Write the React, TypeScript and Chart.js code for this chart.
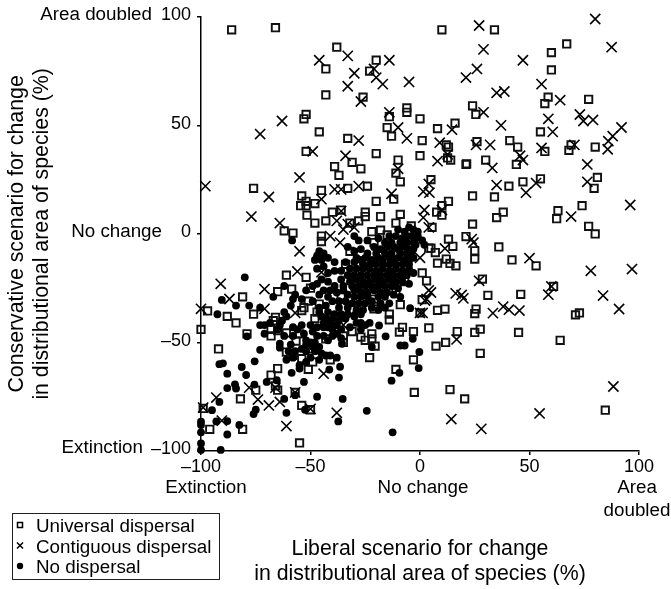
import React, { useEffect, useRef } from "react";
import { Chart, registerables } from "chart.js";

Chart.register(...registerables);

type P = [number, number];

const universalDispersal: P[] = [
  [-86,94],[-66,95],[-38,86],[-43,76],[-20,80],[-23,75],[-43,64],[-26,63],[-52,55],[-53,53],[-46,47],[-14,54],[-15,49],[-13,45],[-6,58],[-6,56],[0,53],[1,43],[0,36],[-33,44],[-52,38],[-20,37],[-39,31],[-31,33],[-27,30],[-37,27],[-10,34],[-11,28],[-9,24],[-76,21],[-33,21],[-24,22],[-45,20],[-54,17.5],[-52,15],[-54.5,13],[-52,13],[-48,14],[-20,15],[-12,16],[5,25],[-40,10],[-36,11],[-25,10],[-25,8],[-51.6,8.6],[-48,5],[-43,6],[-28,6],[-18,8],[-9,9],[-11,5],[-4,3.7],[-62,1.4],[-58,0.4],[-45,-1],[-22,1],[-18,1.7],[-15,-0.5],[-32,5],
  [10,94],[34,94],[67,87.5],[60,83.5],[60,75.5],[77,62],[58.5,63],[57,60],[24,59],[25.5,55],[16,51],[8,48.5],[55,47],[41,43],[44.6,40],[26,42.5],[13,40],[12,41],[12.6,35],[14,34],[21,32],[21.3,32.3],[30,34],[44,32],[69,41],[68,38.5],[57,38],[80,40],[47,24],[55,25.4],[81,26],[79.5,21],[40.6,22],[24,17.5],[34,17],[13,15],[10,13],[7.6,10],[10,8.6],[38,10],[35,7.5],[63,10.7],[62.4,7],[74,13],[24,4.5],[77,3.5],[80,0],[5.5,3],
  [-45,-3.5],[-32,-8],[-34,-14],[-61,-19],[-52,-20],[-65,-26.6],[-58.6,-25.4],[-81,-29],[-97,-35.5],[-88,-38],[-84,-41],[-76,-37],[-66,-38.4],[-67,-40],[-79,-46],[-100,-44],[-68,-44],[-68,-47],[-65,-44.5],[-61,-45.6],[-55,-46],[-56.6,-49.4],[-53,-34],[-54,-35.3],[-51,-31],[-46,-32.3],[-47,-36],[-48,-39],[-36,-29],[-50,-25],[-92,-53],[-61,-54.4],[-58,-56],[-54,-57.5],[-49,-59],[-51,-62.4],[-51,-53],[-65,-62],[-68,-65],[-66,-70],[-65,-72],[-75,-72],[-82,-76],[-57,-73],[-54,-79],[-50,-81],[-99,-80.4],[-96,-90],[-81,-90],[-55,-96.3],[-41,-58],[-23,-57],[-11,-62.4],[-3,-58],[-2.6,-73],[-9,-32.6],[-14,-37],[-14,-39.6],[-8,-43],[-9.4,-45.2],[-3,-45],[0,-36.4],[1,-30.3],[-31,-45],[-27,-47.5],[-25,-49],[-22,-46],[-22,-48.3],[-20.5,-51.7],[-35,-47],[-35,-50],[-43,-48.3],[-21,-30],[-21,-34.5],[-11,-27],[-7,-22],[1,-18],[3,-21.6],[4,-6.6],[-21,-4],[4,-43.3],
  [13,-2.4],[21,-1.2],[15,-5.7],[36,-6],[5,-6.6],[7,-8.6],[25,-7.8],[25,-11.6],[12,-11.6],[13.7,-13.6],[16.4,-14.7],[8,-13.5],[42,-12],[53,-14.7],[28.5,-20.8],[31,-28.3],[46,-27.8],[61,-24.2],[8,-35.2],[11.4,-34.6],[25.6,-34.6],[25,-36.7],[72.8,-36.4],[71,-37.3],[17,-45],[27.5,-43.9],[25,-45.4],[45,-45.4],[64,-49],[11.7,-50],[7.3,-51.7],[27.5,-55],[13.7,-71.7],[20.4,-76],[84.6,-81.2],
];

const contiguousDispersal: P[] = [
  [-98,22],[-73,46],[-63,52],[-46,80],[-33,82],[-30,74],[-14,80],[-21,76],[-20,72],[-17,69],[-5,70],[-33,68],[-27,61],[-14,56],[-10,49],[-6,44],[-28,43],[-49,38],[-34,36],[-55,26],[-10,30],[-69,17],[-77,8],[-64,5],[-39,20.5],[-36,20.5],[-28,22],[-45,16],[-13,18.5],[1.5,19.5],[4,23],[-36,10.5],[2,11],[1.5,7.5],[-38,6],[-33,4.5],[-35,2],[-30,3],[-41,-1],[4,3],
  [80,99],[27,96],[87.5,86],[29,85],[47,80],[26,76],[21,72],[55.5,69],[35,65],[38.5,65.6],[64,61.6],[29,56],[73,55],[74.6,52],[79,52.5],[58.6,53],[37,50],[14.6,48],[60.6,47],[92,49],[88,45],[86,42.7],[85.7,39],[9,42],[25.6,41],[32,41],[55.5,39.6],[70.5,41],[45.7,36],[47,34],[8,33.5],[12.6,36.6],[33,30.4],[76.4,32],[76.4,24],[35,22.5],[53,23.4],[48.4,19],[4.3,19],[96,13.3],[69,8],[10,11],
  [-91,-23],[-71,-25.4],[-87,-30],[-100,-34.5],[-71,-34.5],[-57,-36.4],[-55,-8],[-56,-17.3],[-45,-17.7],[0,-11],[4,-26],[3,-30],[0,-36.4],[-35,-42],[-44,-64.4],[-78,-70.8],[-66,-70.8],[-74,-76.3],[-93,-75.4],[-69,-79],[-64,-77.4],[-99,-80],[-50,-80.6],[-38,-82.4],[-90.5,-86],[-61,-88.5],[-57,-73],[-36.5,-4],[-29,-34.5],
  [23.6,-2.4],[24.4,-4],[11.4,-6.7],[50,-11.2],[78,-17],[96.8,-16.2],[27,-21.6],[5,-27],[16.3,-27.4],[19,-28.1],[19.8,-29.7],[2.3,-30.7],[60,-24.2],[58.6,-28],[83.6,-28.4],[90.9,-34.6],[38,-33.5],[40.6,-34.9],[45.4,-35.3],[33.3,-36.5],[1.2,-36.4],[16.7,-48.6],[88.3,-70.3],[54.6,-82.7],[14.3,-85.3],[28,-89.8],
];

const noDispersal: P[] = [
  [-58.4,-3],[-39,-13],[-80,-20],[-62,-24],[-67,-29],[-90.5,-30.4],[-84,-33],[-78,-33],[-73,-34],[-92.5,-37],[-73,-42],[-71,-42],[-68.5,-41],[-71,-46],[-79,-47.2],[-73,-53.4],[-64,-50.6],[-64,-52.4],[-75.5,-58.7],[-91.6,-60],[-90,-59.6],[-81.4,-61.3],[-88,-64.4],[-79.4,-65],[-84.5,-69.3],[-84,-71.2],[-88,-71],[-75.6,-69.4],[-70,-68.2],[-65.4,-67.4],[-58.6,-64],[-53,-68.2],[-55,-60.5],[-55,-62],[-41.4,-62.5],[-36.5,-61.2],[-37,-66.2],[-57,-74.3],[-62,-76],[-47,-75],[-35.3,-76],[-91.6,-77.4],[-95,-81.2],[-75,-81],[-76,-83],[-61,-82.4],[-52.5,-81],[-24.3,-81.5],[-37.3,-86.4],[-93,-86.4],[-88,-86.2],[-82.5,-88],[-100,-86.5],[-100,-88],[-100,-91.4],[-88,-92.4],[-100,-96.5],[-100,-99.5],[-91,-99.5],[-12.5,-91.4],[-13,-67.6],[-9.4,-64],[-0.6,-61.8],[-0.3,-54.4],[-9,-51.4],[-7,-51.4],[-3.3,-48.3],[-15.7,-47.2],[-18.7,-42.2],[-4.5,-34.2],[-22,-52.1],[-35.6,-50.6],
  [-30,-1],[-28,-3],[-24,-3],[-19,-2],[-14,-1],[-11,-1],[-8,-2],[-6,-1],[-4,-1],[-2,-2],[-1,-1],[-13,-4],[-9,-4],[-6,-4],[-3,-4],[-2,-5],[-16,-4],[-3,2],[-7,1],[-10,2],[1,-3],[2,-5],[-5,3],[-1,1],
  [-21,-6],[-18,-7],[-15,-6],[-12,-6],[-10,-7],[-7,-6],[-5,-7],[-3,-7],[-27,-7],[-30,-8],[-24,-9],[-20,-9],[-16,-9],[-13,-9],[-9,-9],[-6,-9],[-4,-9],[-33,-6],
  [-29,-11],[-27,-12],[-25,-11],[-22,-12],[-19,-11],[-17,-12],[-14,-11],[-12,-12],[-10,-11],[-7,-12],[-5,-12],[-3,-11],[-30,-13],[-26,-14],[-23,-14],[-20,-14],[-17,-14],[-14,-14],[-11,-14],[-8,-14],[-5,-14],[-47,-10],[-45,-12],[-48,-12],[-44,-9],[-42,-11],[-46,-8],
  [-32,-16],[-29,-16],[-26,-16],[-23,-16],[-20,-17],[-17,-16],[-14,-17],[-11,-16],[-8,-17],[-5,-16],[-3,-18],[-36,-17],[-39,-17],[-42,-18],[-44,-15],[-47,-16],[-33,-19],[-30,-19],[-27,-19],[-24,-19],[-21,-19],[-18,-19],[-15,-19],[-12,-19],[-9,-19],[-6,-19],[-34,-13],
  [-45,-21],[-42,-22],[-36,-21],[-32,-22],[-29,-21],[-26,-22],[-23,-22],[-20,-21],[-17,-22],[-14,-21],[-11,-22],[-8,-22],[-5,-23],[-47,-23],[-49,-24],[-35,-24],[-31,-24],[-28,-24],[-25,-24],[-22,-24],[-19,-24],[-16,-24],[-13,-24],[-10,-25],[-52,-26],[-39,-24],
  [-44,-26],[-41,-26],[-38,-27],[-30,-26],[-27,-27],[-24,-27],[-21,-26],[-18,-27],[-15,-27],[-12,-28],[-46,-28],[-42,-29],[-33,-28],[-30,-29],[-27,-29],[-24,-29],[-19,-29],[-16,-29],[-57,-28],[-9,-29],[-35,-26],
  [-58,-30],[-54,-30],[-49,-31],[-40,-31],[-37,-31],[-34,-31],[-31,-32],[-28,-32],[-25,-32],[-22,-31],[-18,-32],[-14,-32],[-59,-33],[-43,-33],[-37,-34],[-33,-34],[-26,-35],[-22,-34],[-19,-35],[-16,-34],[-46,-34],[-29,-35],
  [-62,-36],[-61,-38],[-46,-36],[-42,-36],[-39,-37],[-36,-37],[-33,-37],[-43,-39],[-40,-39],[-30,-38],[-34,-39],[-45,-38],[-37,-40],[-27,-37],
  [-63,-40],[-64,-42],[-44,-41],[-41,-41],[-38,-42],[-29,-41],[-27,-41],[-44,-43],[-40,-44],[-36,-44],[-32,-43],[-27,-44],[-25,-42],[-65,-44],[-58,-43],[-54,-42],[-50,-42],[-47,-43],[-42,-43],[-23,-41],
  [-62,-47],[-58,-47],[-56,-44],[-53,-46],[-49,-45],[-47,-47],[-44,-47],[-42,-49],[-38,-46],[-36,-48],[-52,-49],[-50,-50],[-48,-50],[-52,-51],[-49,-52],[-46,-52],[-52,-54],[-48,-54],[-45,-55],[-54,-53],[-43,-56],[-41,-56],[-38,-57],[-59,-51],[-60,-54],[-57,-54],[-58,-57],[-61,-58],[-50,-57],[-46,-58],[-52,-59],[-40,-47],
];

const seriesNames = ["No dispersal", "Contiguous dispersal", "Universal dispersal"];
const legendNames = ["Universal dispersal", "Contiguous dispersal", "No dispersal"];
const xTitle = ["Liberal scenario for change", "in distributional area of species (%)"];
const yTitle = ["Conservative scenario for change", "in distributional area of species (%)"];
const FONT = '"Liberation Sans", Arial, sans-serif';

const toXY = (pts: P[]) => pts.map(([x, y]) => ({ x, y }));
const tickText = (v: number | string) => String(v).replace("-", "\u2013");

const annotations = {
  id: "annotations",
  afterDraw(chart: Chart) {
    const c = chart.ctx;
    c.save();
    c.fillStyle = "#000";
    c.font = `18.8px ${FONT}`;
    c.textBaseline = "middle";
    c.textAlign = "right";
    c.fillText("Area doubled", 152, 15);
    c.fillText("No change", 162, 232);
    c.fillText("Extinction", 143, 448);
    c.textAlign = "center";
    c.fillText("Extinction", 206, 488);
    c.fillText("No change", 423, 488);
    c.fillText("Area", 637, 488);
    c.fillText("doubled", 637, 511);

    c.strokeStyle = "#222";
    c.lineWidth = 1;
    c.strokeRect(12.5, 513.5, 207, 66);
    c.textAlign = "left";
    c.font = `18.8px ${FONT}`;
    legendNames.forEach((name, i) => {
      const y = 527 + i * 20.5;
      c.fillStyle = "#000";
      c.fillText(name, 36, y);
      const my = y - 2;
      c.strokeStyle = "#000";
      c.lineWidth = 1.5;
      if (i === 0) {
        c.strokeRect(17.5, my - 2.5, 5, 5);
      } else if (i === 1) {
        c.beginPath();
        c.moveTo(17, my - 3); c.lineTo(23, my + 3);
        c.moveTo(23, my - 3); c.lineTo(17, my + 3);
        c.stroke();
      } else {
        c.beginPath();
        c.arc(20, my, 3.2, 0, Math.PI * 2);
        c.fill();
      }
    });
    c.restore();
  },
};

export default function App() {
  const ref = useRef<HTMLCanvasElement>(null);
  useEffect(() => {
    const chart = new Chart(ref.current!, {
      type: "scatter",
      data: {
        datasets: [
          { label: seriesNames[0], data: toXY(noDispersal), pointStyle: "circle", pointRadius: 3.9, pointBackgroundColor: "#000", pointBorderWidth: 0, clip: false, order: 1 },
          { label: seriesNames[1], data: toXY(contiguousDispersal), pointStyle: "crossRot", pointRadius: 7.2, pointBorderColor: "#000", pointBorderWidth: 1.6, clip: false, order: 2 },
          { label: seriesNames[2], data: toXY(universalDispersal), pointStyle: "rect", pointRadius: 5.2, pointBackgroundColor: "rgba(0,0,0,0)", pointBorderColor: "#111", pointBorderWidth: 1.9, clip: false, order: 3 },
        ],
      } as any,
      options: {
        animation: false,
        responsive: false,
        layout: { padding: { top: 15, right: 32, left: 0, bottom: 0 } },
        plugins: { legend: { display: false }, tooltip: { enabled: false } },
        scales: {
          x: {
            type: "linear", min: -100, max: 100,
            border: { color: "#000", width: 1.5 },
            grid: { drawOnChartArea: false, tickLength: 4, color: "#000", lineWidth: 1.5 },
            ticks: { stepSize: 50, color: "#000", font: { family: FONT, size: 18 }, padding: 1, maxRotation: 0, callback: tickText },
            title: { display: true, text: xTitle, color: "#000", font: { family: FONT, size: 21.3, lineHeight: 1.2 }, padding: { top: 0, bottom: 2 } },
            afterFit(s: any) { s.height = 138; },
          },
          y: {
            type: "linear", min: -100, max: 100,
            border: { color: "#000", width: 1.5 },
            grid: { drawOnChartArea: false, tickLength: 4, color: "#000", lineWidth: 1.5 },
            ticks: { stepSize: 50, color: "#000", font: { family: FONT, size: 18 }, padding: 6, labelOffset: -1.5, callback: tickText },
            title: { display: true, text: yTitle, color: "#000", font: { family: FONT, size: 21.3, lineHeight: 1.2 }, padding: { top: 4, bottom: 0 } },
            afterFit(s: any) { s.width = 201; },
          },
        },
      } as any,
      plugins: [annotations],
    });
    return () => chart.destroy();
  }, []);
  return (
    <div style={{ position: "absolute", left: 0, top: 0 }}>
      <canvas ref={ref} width={671} height={589} style={{ display: "block" }} />
    </div>
  );
}
